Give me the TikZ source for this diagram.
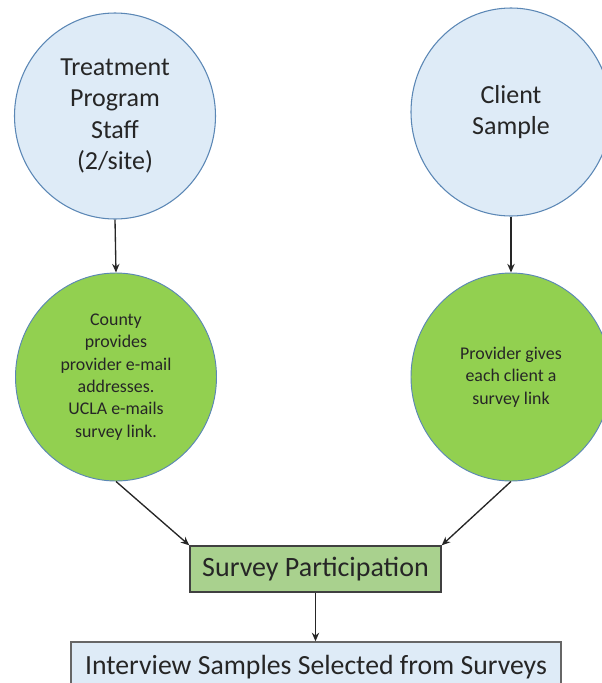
\documentclass[tikz,border=0pt]{standalone}
\usepackage{fontspec}
\setmainfont{Carlito}
\usetikzlibrary{shapes.geometric,arrows.meta}
\definecolor{lblue}{HTML}{DEEBF7}
\definecolor{bborder}{HTML}{5B87B5}
\definecolor{lgreen}{HTML}{92D050}
\definecolor{sgreen}{HTML}{A9D18E}
\definecolor{dgray}{HTML}{404040}
\tikzset{
  bigcirc/.style={ellipse, draw=bborder, line width=0.8pt, fill=lblue, align=center,
    font=\fontsize{19.5}{23.5}\selectfont, text=black!85, inner sep=0pt},
  greencirc/.style={ellipse, draw=bborder, line width=0.7pt, fill=lgreen, align=center,
    font=\fontsize{13.4}{16.8}\selectfont, text=black!85, inner sep=0pt},
  sbox/.style={rectangle, draw=dgray, line width=1pt, fill=sgreen, align=center,
    font=\fontsize{21}{24}\selectfont, text=black!85},
  ibox/.style={rectangle, draw=dgray!80, line width=1pt, fill=lblue, align=center,
    font=\fontsize{20.8}{24}\selectfont, text=black!85},
  conn/.style={draw=black!85, line width=1pt, -{Stealth[length=6.5pt,width=5.5pt]}}
}
\begin{document}
\begin{tikzpicture}[x=0.75pt,y=-0.75pt]
\useasboundingbox (0,0) rectangle (602,683);
\clip (0,0) rectangle (602,683);
\node[bigcirc, minimum width=150.75pt, minimum height=154.5pt] (tps) at (115,116)
  {Treatment\\Program\\Staff\\(2/site)};
\node[bigcirc, minimum width=150pt, minimum height=156pt] (cs) at (511,112)
  {Client\\Sample};
\node[greencirc, minimum width=150.75pt, minimum height=156pt] (cp) at (116,377)
  {County\\provides\\provider e-mail\\addresses.\\UCLA e-mails\\survey link.};
\node[greencirc, minimum width=150pt, minimum height=156pt] (pg) at (511,377)
  {Provider gives\\each client a\\survey link};
\node[sbox, minimum width=188.25pt, minimum height=34.5pt] (sp) at (315.5,569)
  {Survey Participation};
\node[ibox, minimum width=367.5pt, minimum height=37.5pt] (is) at (316,667)
  {Interview Samples Selected from Surveys};
\draw[conn] (tps.south) -- (cp.north);
\draw[conn] (cs.south) -- (pg.north);
\draw[conn] (cp.south) -- (sp.north west);
\draw[conn] (pg.south) -- (sp.north east);
\draw[conn] (sp.south) -- (sp.south |- is.north);
\end{tikzpicture}
\end{document}
